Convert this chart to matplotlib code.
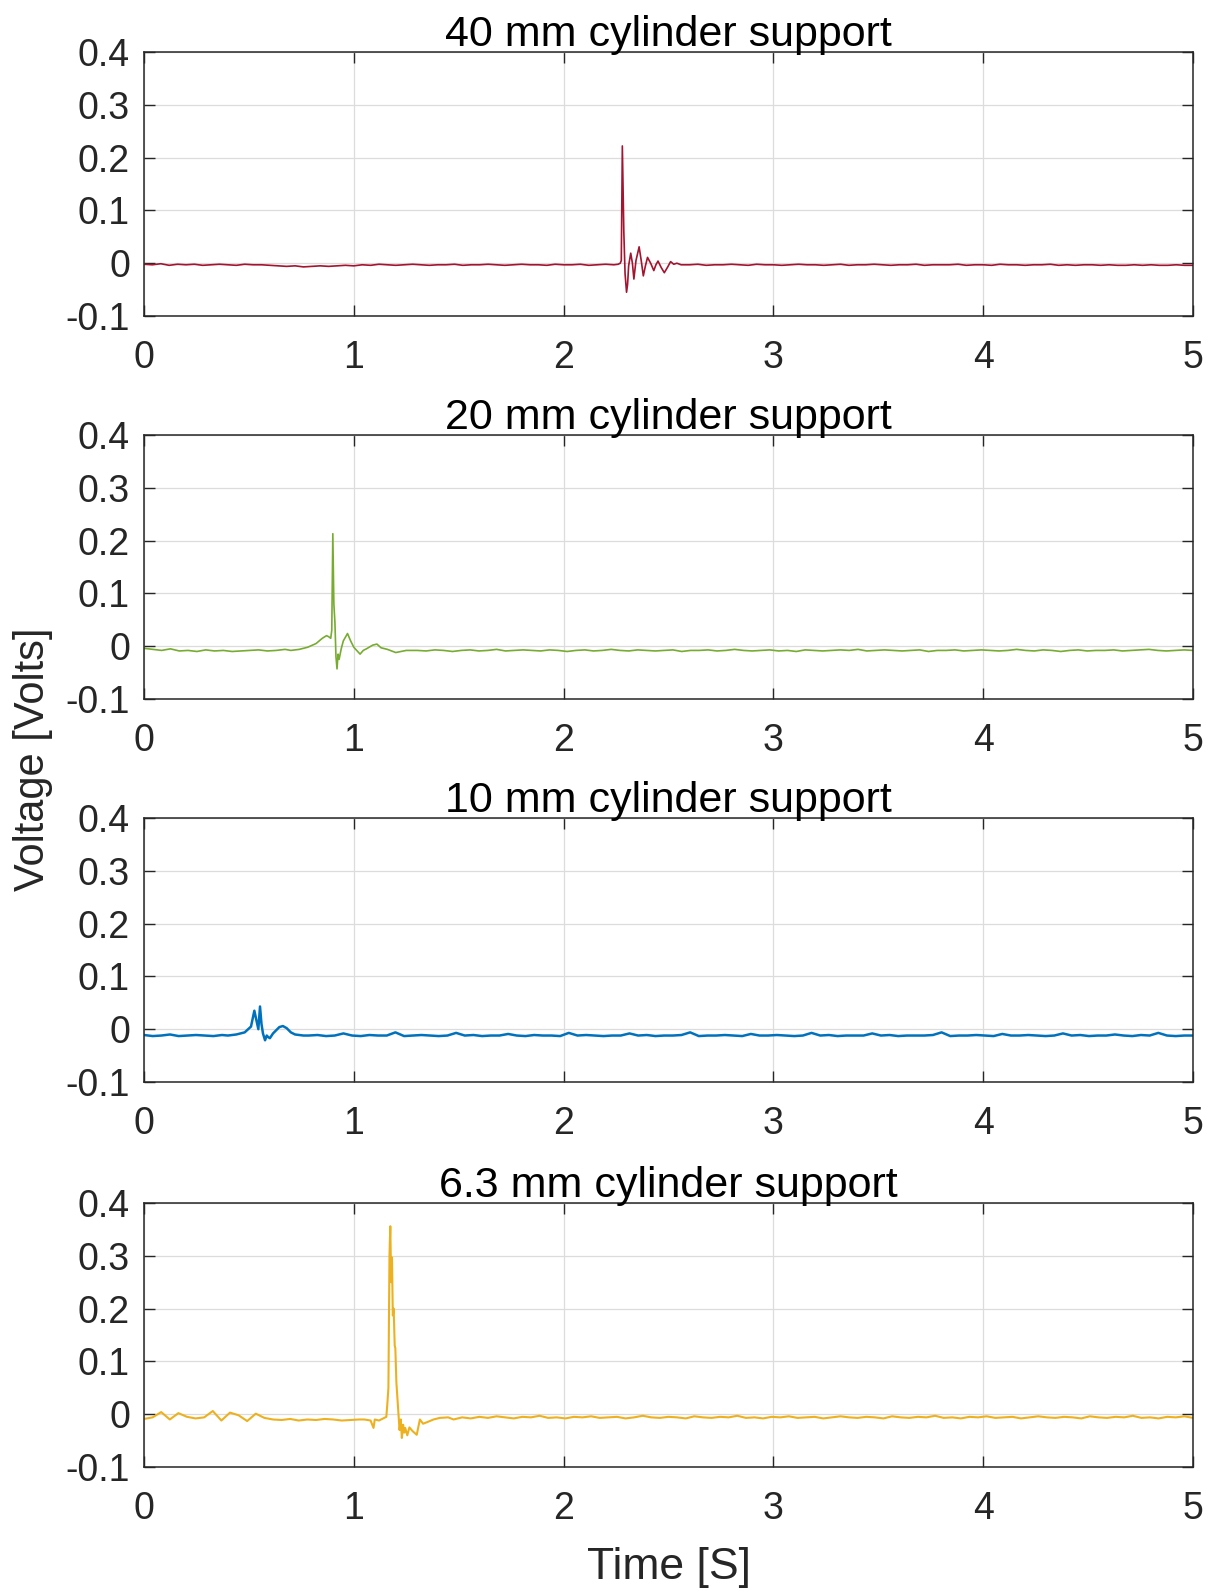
import numpy as np
import matplotlib
matplotlib.use('Agg')
import matplotlib.pyplot as plt

plt.rcParams['font.family'] = ['Liberation Sans', 'DejaVu Sans']

titles = ['40 mm cylinder support', '20 mm cylinder support',
          '10 mm cylinder support', '6.3 mm cylinder support']
colors = ['#A2142F', '#77AC30', '#0072BD', '#EDB120']

# baseline samples (mV), evenly spaced over 0..5 s
red_base = [-2, -3, -1, -4, -2, -3, -2, -4, -3, -2, -3, -4, -2, -3, -3,
            -4, -5, -6, -5, -7, -6, -5, -6, -5, -4, -5,
            -3, -4, -2, -3, -4, -3, -2, -3, -4, -3, -3, -2, -4, -3, -3, -2, -3, -4, -3, -2,
            -3, -3, -4, -2, -3, -3, -2, -4, -3, -2,
            -3, -3, -3, -3, -3, -3, -3, -3, -3,
            -3, -2, -4, -3, -3, -2, -3, -4, -2, -3, -3, -4, -3, -2, -3, -3, -4, -3, -2, -4,
            -3, -3, -2, -3, -4, -3, -3, -2, -4, -3,
            -3, -3, -2, -4, -3, -3, -4, -2, -3, -3, -4, -3, -3, -2, -4, -3, -4, -3, -3, -4,
            -3, -4, -4, -3, -4, -3, -4, -4, -3, -4, -4]
green_base = [-4, -6, -8, -5, -9, -8, -10, -7, -9, -8, -10, -9, -8, -7, -9, -8, -6, -8,
              -8, -8, -8, -8, -8, -8, -8, -8, -8, -8, -8, -8, -8, -8,
              -9, -7, -8, -10, -8, -7, -9, -8, -6, -9, -8, -7, -8, -9, -7, -8, -10, -8,
              -7, -9, -8, -6, -8, -9, -7, -8, -9, -8, -7, -10, -8, -8, -7, -9, -8, -6,
              -8, -9, -8, -7, -9, -8, -10, -7, -8, -9, -8, -7, -8, -6, -9, -8, -7, -8,
              -9, -8, -7, -10, -8, -8, -7, -9, -8, -7, -8, -9, -8, -6, -8, -9, -7, -8,
              -10, -8, -7, -9, -8, -8, -7, -9, -8, -7, -6, -8, -9, -8, -7, -8]
blue_base = [-11, -13, -12, -10, -13, -12, -11, -12, -13, -11, -12, -12,
             -12, -12, -12, -12, -12, -12, -12, -12,
             -11, -13, -12, -8, -12, -13, -11, -12, -12, -6, -13, -12, -11, -12, -13, -12,
             -7, -12, -11, -13, -12, -12, -9, -12, -13, -11, -12, -12, -13, -7, -12, -11,
             -12, -13, -12, -12, -8, -12, -11, -13, -12, -12, -11, -6, -13, -12, -12, -11,
             -12, -13, -9, -12, -12, -11, -12, -13, -12, -7, -12, -11, -13, -12, -12, -12,
             -8, -12, -11, -13, -12, -12, -12, -11, -6, -13, -12, -12, -11, -12, -13, -9,
             -12, -12, -11, -12, -13, -12, -8, -12, -11, -13, -12, -12, -10, -12, -13,
             -11, -12, -7, -12, -13, -12, -12]
yellow_base = [-9, -6, 4, -10, 2, -5, -8, -6, 6, -12, 3, -2, -13, 1, -7, -10,
               -11, -9, -12, -10, -11, -9, -10, -12, -11, -10, -10,
               -10, -10, -10, -10, -10, -10, -10, -10, -10, -10,
               -6, -8, -5, -7, -4, -6, -8, -5, -6, -3, -7, -6, -8, -5, -6, -4, -7, -6,
               -5, -8, -6, -3, -6, -7, -5, -6, -8, -4, -6, -7, -5, -6, -3, -7, -6, -8,
               -5, -6, -4, -7, -6, -5, -8, -6, -4, -6, -7, -5, -6, -8, -4, -6, -7, -5,
               -6, -3, -7, -6, -8, -5, -6, -4, -7, -6, -5, -8, -6, -4, -6, -7, -5, -6,
               -8, -4, -6, -7, -5, -6, -3, -7, -6, -8, -5, -6, -4, -7]

# impact events (time s, mV)
red_ev_t = [2.24, 2.26, 2.27, 2.275, 2.28, 2.287, 2.293, 2.30, 2.305, 2.31, 2.32, 2.328,
            2.335, 2.345, 2.36, 2.37, 2.38, 2.39, 2.40, 2.415, 2.43, 2.44, 2.45, 2.465,
            2.48, 2.495, 2.51, 2.525, 2.54, 2.56]
red_ev_v = [-3, -2, 0, 5, 222, 60, -20, -55, -40, -5, 19, 0,
            -30, 5, 31, 5, -24, -5, 11, 0, -14, -3, 4, -8,
            -18, -8, 3, -2, 0, -3]
green_ev_t = [0.70, 0.74, 0.78, 0.82, 0.85, 0.87, 0.88, 0.89, 0.895, 0.90, 0.905, 0.91,
              0.915, 0.92, 0.925, 0.93, 0.94, 0.95, 0.97, 0.985, 1.0, 1.03, 1.045, 1.06,
              1.09, 1.11, 1.13, 1.16, 1.20, 1.25]
green_ev_v = [-8, -6, -2, 5, 15, 20, 18, 15, 30, 213, 80, 45,
              -20, -43, -15, -25, -5, 10, 24, 10, -2, -15, -8, -5,
              2, 4, -3, -6, -12, -8]
blue_ev_t = [0.40, 0.44, 0.48, 0.51, 0.526, 0.535, 0.545, 0.553, 0.56, 0.567, 0.577,
             0.585, 0.592, 0.60, 0.615, 0.63, 0.645, 0.662, 0.68, 0.70, 0.72, 0.76]
blue_ev_v = [-12, -10, -6, 5, 35, 18, 0, 43, 10, -8, -21,
             -12, -15, -17, -8, -2, 4, 6, 2, -6, -10, -12]
yellow_ev_t = [1.05, 1.08, 1.094, 1.10, 1.12, 1.14, 1.155, 1.16, 1.165, 1.17, 1.174,
               1.178, 1.182, 1.186, 1.19, 1.195, 1.198, 1.203, 1.208, 1.212, 1.218,
               1.224, 1.229, 1.235, 1.24, 1.245, 1.255, 1.265, 1.28, 1.30, 1.315, 1.33,
               1.35, 1.38, 1.41, 1.45]
yellow_ev_v = [-10, -12, -26, -10, -12, -8, -5, 20, 50, 300, 356,
               250, 297, 187, 200, 130, 125, 60, 30, 3, -30,
               -10, -45, -20, -35, -26, -40, -25, -32, -39, -10, -18,
               -15, -10, -7, -6]

bases = [red_base, green_base, blue_base, yellow_base]
ev_ts = [red_ev_t, green_ev_t, blue_ev_t, yellow_ev_t]
ev_vs = [red_ev_v, green_ev_v, blue_ev_v, yellow_ev_v]
widths = [1.2, 1.2, 1.8, 1.5]

yticks = [-0.1, 0, 0.1, 0.2, 0.3, 0.4]
ylabels = ['-0.1', '0', '0.1', '0.2', '0.3', '0.4']
xticks = [0, 1, 2, 3, 4, 5]


def merge(base, et, ev):
    tb = np.linspace(0, 5, len(base))
    vb = np.array(base, dtype=float)
    keep = (tb < et[0]) | (tb > et[-1])
    t = np.concatenate([tb[keep], et])
    v = np.concatenate([vb[keep], ev])
    idx = np.argsort(t)
    return t[idx], v[idx] / 1000.0


fig = plt.figure(figsize=(12.16, 15.93), dpi=100)
W, H = 1216, 1593
left, right = 144, 1193
tops = [52, 435, 818, 1203]
h = 264

for i in range(4):
    ax = fig.add_axes([left / W, 1 - (tops[i] + h) / H, (right - left) / W, h / H])
    t, v = merge(bases[i], ev_ts[i], ev_vs[i])
    ax.plot(t, v, color=colors[i], lw=widths[i])
    ax.set_xlim(0, 5)
    ax.set_ylim(-0.1, 0.4)
    ax.set_xticks(xticks)
    ax.set_yticks(yticks)
    ax.set_yticklabels(ylabels)
    ax.grid(True, color='#dcdcdc', lw=0.9)
    ax.set_axisbelow(True)
    ax.tick_params(direction='in', length=8, width=1.0, colors='#262626',
                   labelsize=27, top=True, right=True)
    ax.tick_params(axis='x', pad=17)
    ax.tick_params(axis='y', pad=10)
    for s in ax.spines.values():
        s.set_color('#262626')
        s.set_linewidth(1.1)
    ax.set_title(titles[i], fontsize=31, pad=4, color='black')

fig.text((left + right) / 2 / W, 1 - 1568 / H, 'Time [S]', fontsize=32,
         ha='center', va='center', color='#262626')
fig.text(33 / W, 1 - 759 / H, 'Voltage [Volts]', fontsize=30, rotation=90,
         ha='center', va='center', color='#262626')

fig.savefig('out.png', dpi=100)
